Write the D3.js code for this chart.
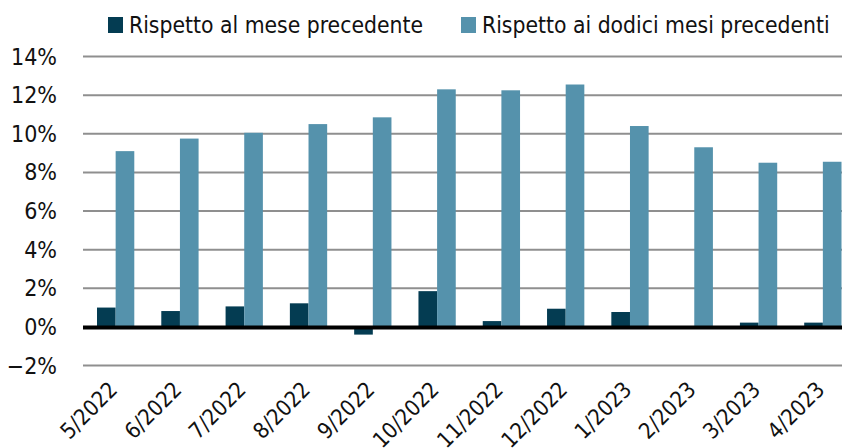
<!DOCTYPE html>
<html>
<head>
<meta charset="utf-8">
<script src="https://cdn.jsdelivr.net/npm/d3@7"></script>
<style>
  body { margin: 0; background: #fff; }
  text { font-family: "Liberation Sans Narrow", "DejaVu Sans Condensed", "Roboto Condensed", sans-serif; font-stretch: condensed; fill: #111; }
</style>
</head>
<body>
<div id="chart"></div>
<script>
var width = 842;
var height = 448;

// data
var months = ["5/2022","6/2022","7/2022","8/2022","9/2022","10/2022","11/2022","12/2022","1/2023","2/2023","3/2023","4/2023"];
var meseVals = [1.0, 0.82, 1.06, 1.22, -0.4, 1.85, 0.3, 0.94, 0.77, 0.0, 0.22, 0.22];
var dodiciVals = [9.1, 9.75, 10.05, 10.5, 10.85, 12.3, 12.25, 12.55, 10.4, 9.3, 8.5, 8.55];
var seriesNames = ["Rispetto al mese precedente", "Rispetto ai dodici mesi precedenti"];
var yTicks = [-2, 0, 2, 4, 6, 8, 10, 12, 14];

var colors = ["#043c52", "#5592ac"];

var svg = d3.select("#chart")
  .append("svg")
  .attr("width", width)
  .attr("height", height);

var x = d3.scaleBand()
  .domain(months)
  .range([83.5, 855])
  .paddingInner(0.42)
  .paddingOuter(0.21);

var x1 = d3.scaleBand()
  .domain([0, 1])
  .range([0, x.bandwidth()]);

var y = d3.scaleLinear()
  .domain([-2, 14])
  .range([365.5, 56.5]);

// gridlines
svg.append("g")
  .selectAll("line")
  .data(yTicks.filter(function(d){ return d !== 0; }))
  .enter()
  .append("line")
  .attr("x1", 83)
  .attr("x2", width)
  .attr("y1", function(d){ return y(d); })
  .attr("y2", function(d){ return y(d); })
  .attr("stroke", "#8f8f8f")
  .attr("stroke-width", 2);

// y labels
svg.append("g")
  .selectAll("text")
  .data(yTicks)
  .enter()
  .append("text")
  .attr("x", 57)
  .attr("y", function(d){ return y(d) + 8; })
  .attr("text-anchor", "end")
  .style("font-size", "23px")
  .text(function(d){ return (d < 0 ? "\u2212" + Math.abs(d) : d) + "%"; });

// bars
var groups = svg.append("g")
  .selectAll("g")
  .data(months)
  .enter()
  .append("g")
  .attr("transform", function(d){ return "translate(" + x(d) + ",0)"; });

groups.selectAll("rect")
  .data(function(d, i){ return [meseVals[i], dodiciVals[i]]; })
  .enter()
  .append("rect")
  .attr("x", function(d, j){ return x1(j); })
  .attr("width", x1.bandwidth())
  .attr("y", function(d){ return y(Math.max(0, d)); })
  .attr("height", function(d){ return Math.abs(y(d) - y(0)); })
  .attr("fill", function(d, j){ return colors[j]; });

// zero line
svg.append("line")
  .attr("x1", 83)
  .attr("x2", width)
  .attr("y1", y(0) + 0.5)
  .attr("y2", y(0) + 0.5)
  .attr("stroke", "#000")
  .attr("stroke-width", 4);

// x labels
svg.append("g")
  .selectAll("text")
  .data(months)
  .enter()
  .append("text")
  .attr("transform", function(d){
    return "translate(" + (x(d) + x.bandwidth() / 2 + 3) + ",391) rotate(-45)";
  })
  .attr("text-anchor", "end")
  .style("font-size", "22px")
  .text(function(d){ return d; });

// legend
var legend = svg.append("g");
var legendX = [108, 461];
seriesNames.forEach(function(name, i){
  legend.append("rect")
    .attr("x", legendX[i])
    .attr("y", 17)
    .attr("width", 15)
    .attr("height", 16)
    .attr("fill", colors[i]);
  legend.append("text")
    .attr("x", legendX[i] + 21)
    .attr("y", 33)
    .style("font-size", "22.7px")
    .text(name);
});
</script>
</body>
</html>
